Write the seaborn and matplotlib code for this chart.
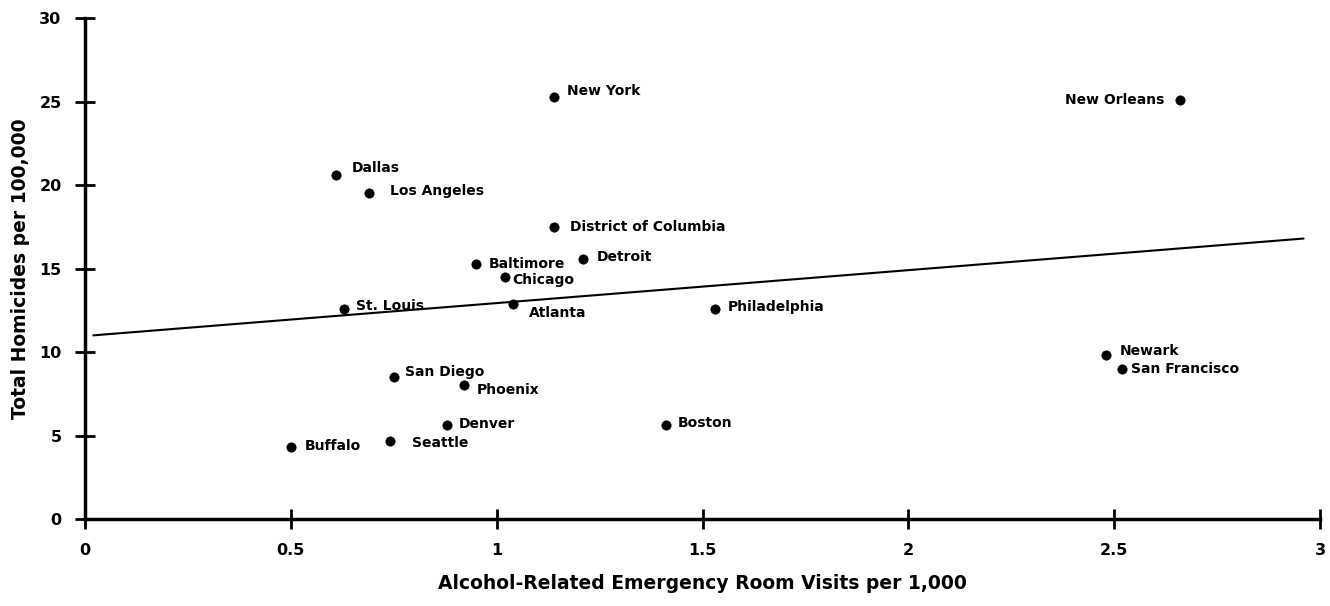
import matplotlib
matplotlib.use("Agg")
import matplotlib.pyplot as plt
import seaborn as sns
import pandas as pd

cities = ["New York", "New Orleans", "Dallas", "Los Angeles", "District of Columbia",
          "Detroit", "Baltimore", "Chicago", "Atlanta", "St. Louis", "Philadelphia",
          "Newark", "San Francisco", "San Diego", "Phoenix", "Denver", "Boston",
          "Seattle", "Buffalo"]
er_visits = [1.14, 2.66, 0.61, 0.69, 1.14, 1.21, 0.95, 1.02, 1.04, 0.63, 1.53,
             2.48, 2.52, 0.75, 0.92, 0.88, 1.41, 0.74, 0.50]
homicides = [25.3, 25.1, 20.6, 19.5, 17.5, 15.6, 15.3, 14.5, 12.9, 12.6, 12.6,
             9.8, 9.0, 8.5, 8.0, 5.6, 5.6, 4.7, 4.3]
trend_x = [0.02, 2.96]
trend_y = [11.0, 16.8]
x_ticks = [0, 0.5, 1, 1.5, 2, 2.5, 3]
x_tick_labels = ["0", "0.5", "1", "1.5", "2", "2.5", "3"]
y_ticks = [0, 5, 10, 15, 20, 25, 30]

# label offsets in points (dx, dy), and horizontal alignment
label_offsets = {
    "New York": (9, 4, "left"), "New Orleans": (-11, 0, "right"),
    "Dallas": (11, 5, "left"), "Los Angeles": (15, 2, "left"),
    "District of Columbia": (11, 0, "left"), "Detroit": (10, 1, "left"),
    "Baltimore": (9, 0, "left"), "Chicago": (5, -2, "left"),
    "Atlanta": (11, -7, "left"), "St. Louis": (8, 2, "left"),
    "Philadelphia": (9, 1, "left"), "Newark": (10, 3, "left"),
    "San Francisco": (6, 0, "left"), "San Diego": (8, 4, "left"),
    "Phoenix": (9, -3, "left"), "Denver": (8, 1, "left"),
    "Boston": (9, 2, "left"), "Seattle": (16, -2, "left"),
    "Buffalo": (10, 1, "left"),
}

df = pd.DataFrame({"city": cities, "x": er_visits, "y": homicides})
trend = pd.DataFrame({"x": trend_x, "y": trend_y})

sns.set_theme(style="white")
plt.rcParams["font.family"] = ["DejaVu Sans"]
plt.rcParams["text.color"] = "black"
plt.rcParams["axes.labelcolor"] = "black"

fig = plt.figure(figsize=(13.3, 6.06), dpi=100)
ax = fig.add_axes([0.064, 0.1436, 0.9285, 0.8264])

sns.lineplot(data=trend, x="x", y="y", ax=ax, color="black", linewidth=1.5)
sns.scatterplot(data=df, x="x", y="y", ax=ax, color="black", s=45,
                edgecolor="black", linewidth=0.5, zorder=3)

for c, xv, yv in zip(cities, er_visits, homicides):
    dx, dy, ha = label_offsets[c]
    ax.annotate(c, (xv, yv), xytext=(dx, dy), textcoords="offset points",
                ha=ha, va="center", fontsize=10, fontweight="bold", color="black")

ax.set_xlim(0, 3)
ax.set_ylim(0, 30)
ax.set_xticks(x_ticks)
ax.set_xticklabels(x_tick_labels)
ax.set_yticks(y_ticks)
for s in ["top", "right"]:
    ax.spines[s].set_visible(False)
for s in ["left", "bottom"]:
    ax.spines[s].set_linewidth(2.5)
    ax.spines[s].set_color("black")
ax.tick_params(axis="both", direction="inout", length=14, width=2, colors="black",
               labelsize=11.5, pad=10, bottom=True, left=True)
for lab in ax.get_xticklabels() + ax.get_yticklabels():
    lab.set_fontweight("bold")
ax.set_xlabel("Alcohol-Related Emergency Room Visits per 1,000", fontsize=13.5,
              fontweight="bold", labelpad=12)
ax.set_ylabel("Total Homicides per 100,000", fontsize=13.5, fontweight="bold",
              labelpad=7)
ax.grid(False)

fig.savefig("out.png", dpi=100)
